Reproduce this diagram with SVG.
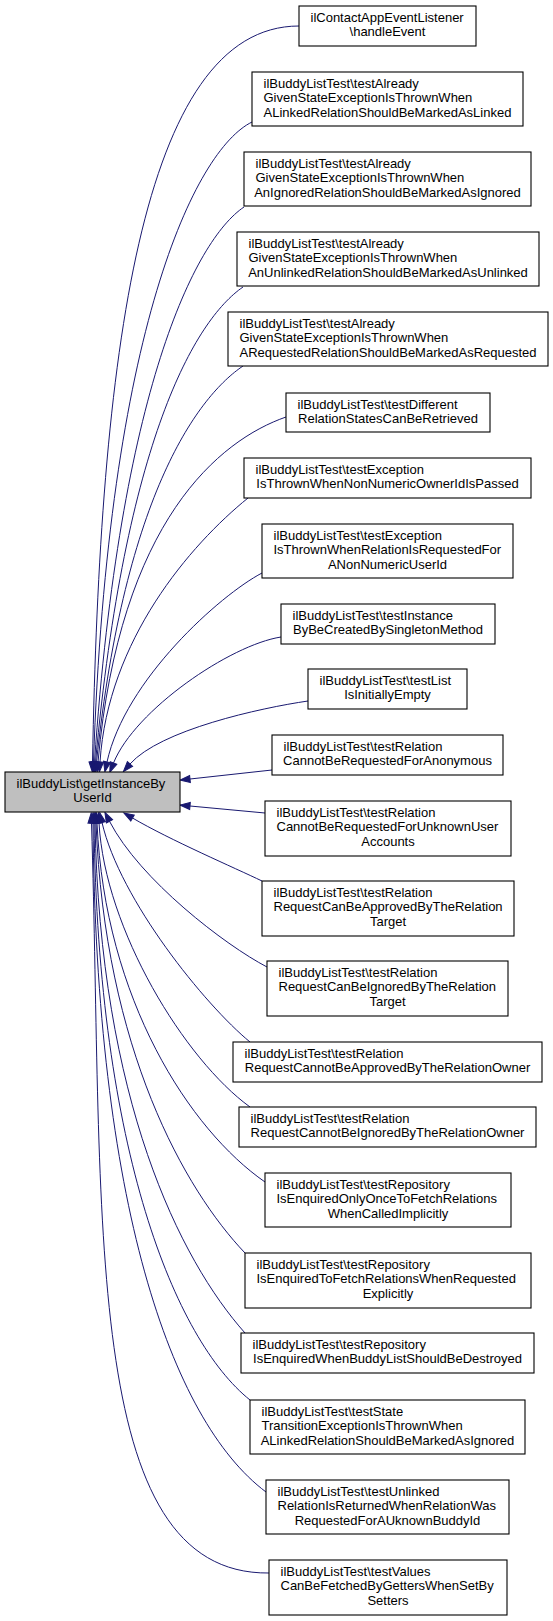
<svg xmlns="http://www.w3.org/2000/svg" width="553" height="1621" viewBox="0 0 553 1621">
<style>
.node rect{fill:#fff;stroke:#000;stroke-width:1.1}
#main rect{fill:#bfbfbf}
text{font-family:"Liberation Sans",Arial,sans-serif;font-size:13px;fill:#000}
.c{text-anchor:middle}
.edges path{fill:none;stroke:#191970;stroke-width:1;marker-end:url(#ah)}
</style>
<defs>
<marker id="ah" markerUnits="userSpaceOnUse" markerWidth="10" markerHeight="7" refX="0" refY="3.5" orient="auto" viewBox="0 0 10 7" overflow="visible">
<path d="M0,0 L10,3.5 L0,7 z" fill="#191970" stroke="#191970" stroke-width="1"/>
</marker>
</defs>
<rect width="553" height="1621" fill="#fff"/>
<g class="edges">
<path d="M299,26 C140,26 100,360 92.5,762"/>
<path d="M252,122 C195,150 108,330 93.5,762"/>
<path d="M244,207 C195,240 120,390 94.5,762"/>
<path d="M243,287 C195,320 125,440 95.5,762"/>
<path d="M243,366 C200,395 125,490 96.5,762"/>
<path d="M286,417 C220,440 120,520 98,762"/>
<path d="M248,498 C190,545 108,640 100,762"/>
<path d="M262,573 C220,595 125,680 107,762"/>
<path d="M281,637 C230,645 135,710 113.5,763"/>
<path d="M308,701 C260,708 160,730 130,764"/>
<path d="M272,770 L190,779"/>
<path d="M265,813 L190,806"/>
<path d="M262,881 C235,868 170,840 132.5,818"/>
<path d="M267,967 C225,945 140,880 109.5,821.3"/>
<path d="M250,1042 C205,1005 120,900 102,822.5"/>
<path d="M250,1107 C185,1060 105,930 99,823"/>
<path d="M265,1182 C190,1130 105,1000 97,823"/>
<path d="M245,1253 C185,1190 105,1050 96,823"/>
<path d="M245,1333 C180,1260 100,1100 95,823"/>
<path d="M250,1400 C175,1340 98,1150 94,823"/>
<path d="M266,1492 C170,1420 96,1200 93,823"/>
<path d="M269,1573 C80,1575 104,1220 91.5,823"/>
</g>
<g id="main" class="node"><rect x="5" y="772" width="175" height="40"/><text x="16.5" y="787.5">ilBuddyList\getInstanceBy</text><text class="c" x="92.5" y="802">UserId</text></g>
<g id="n1" class="node"><rect x="299" y="6" width="177" height="40"/><text x="310.5" y="21.5">ilContactAppEventListener</text><text class="c" x="387.5" y="36">\handleEvent</text></g>
<g id="n2" class="node"><rect x="252" y="72" width="271" height="54"/><text x="263.5" y="87.5">ilBuddyListTest\testAlready</text><text x="263.5" y="102">GivenStateExceptionIsThrownWhen</text><text class="c" x="387.5" y="116.5">ALinkedRelationShouldBeMarkedAsLinked</text></g>
<g id="n3" class="node"><rect x="244" y="152" width="287" height="54"/><text x="255.5" y="167.5">ilBuddyListTest\testAlready</text><text x="255.5" y="182">GivenStateExceptionIsThrownWhen</text><text class="c" x="387.5" y="196.5">AnIgnoredRelationShouldBeMarkedAsIgnored</text></g>
<g id="n4" class="node"><rect x="237" y="232" width="302" height="54"/><text x="248.5" y="247.5">ilBuddyListTest\testAlready</text><text x="248.5" y="262">GivenStateExceptionIsThrownWhen</text><text class="c" x="388" y="276.5">AnUnlinkedRelationShouldBeMarkedAsUnlinked</text></g>
<g id="n5" class="node"><rect x="228" y="312" width="320" height="54"/><text x="239.5" y="327.5">ilBuddyListTest\testAlready</text><text x="239.5" y="342">GivenStateExceptionIsThrownWhen</text><text class="c" x="388" y="356.5">ARequestedRelationShouldBeMarkedAsRequested</text></g>
<g id="n6" class="node"><rect x="286" y="393" width="204" height="39"/><text x="297.5" y="408.5">ilBuddyListTest\testDifferent</text><text class="c" x="388" y="423">RelationStatesCanBeRetrieved</text></g>
<g id="n7" class="node"><rect x="244" y="458" width="287" height="40"/><text x="255.5" y="473.5">ilBuddyListTest\testException</text><text class="c" x="387.5" y="488">IsThrownWhenNonNumericOwnerIdIsPassed</text></g>
<g id="n8" class="node"><rect x="262" y="524" width="251" height="54"/><text x="273.5" y="539.5">ilBuddyListTest\testException</text><text x="273.5" y="554">IsThrownWhenRelationIsRequestedFor</text><text class="c" x="387.5" y="568.5">ANonNumericUserId</text></g>
<g id="n9" class="node"><rect x="281" y="604" width="214" height="40"/><text x="292.5" y="619.5">ilBuddyListTest\testInstance</text><text class="c" x="388" y="634">ByBeCreatedBySingletonMethod</text></g>
<g id="n10" class="node"><rect x="308" y="669" width="159" height="40"/><text x="319.5" y="684.5">ilBuddyListTest\testList</text><text class="c" x="387.5" y="699">IsInitiallyEmpty</text></g>
<g id="n11" class="node"><rect x="272" y="735" width="231" height="40"/><text x="283.5" y="750.5">ilBuddyListTest\testRelation</text><text class="c" x="387.5" y="765">CannotBeRequestedForAnonymous</text></g>
<g id="n12" class="node"><rect x="265" y="801" width="246" height="55"/><text x="276.5" y="816.5">ilBuddyListTest\testRelation</text><text x="276.5" y="831">CannotBeRequestedForUnknownUser</text><text class="c" x="388" y="845.5">Accounts</text></g>
<g id="n13" class="node"><rect x="262" y="881" width="252" height="55"/><text x="273.5" y="896.5">ilBuddyListTest\testRelation</text><text x="273.5" y="911">RequestCanBeApprovedByTheRelation</text><text class="c" x="388" y="925.5">Target</text></g>
<g id="n14" class="node"><rect x="267" y="961" width="241" height="55"/><text x="278.5" y="976.5">ilBuddyListTest\testRelation</text><text x="278.5" y="991">RequestCanBeIgnoredByTheRelation</text><text class="c" x="387.5" y="1005.5">Target</text></g>
<g id="n15" class="node"><rect x="233" y="1042" width="309" height="40"/><text x="244.5" y="1057.5">ilBuddyListTest\testRelation</text><text class="c" x="387.5" y="1072">RequestCannotBeApprovedByTheRelationOwner</text></g>
<g id="n16" class="node"><rect x="239" y="1107" width="297" height="40"/><text x="250.5" y="1122.5">ilBuddyListTest\testRelation</text><text class="c" x="387.5" y="1137">RequestCannotBeIgnoredByTheRelationOwner</text></g>
<g id="n17" class="node"><rect x="265" y="1173" width="246" height="54"/><text x="276.5" y="1188.5">ilBuddyListTest\testRepository</text><text x="276.5" y="1203">IsEnquiredOnlyOnceToFetchRelations</text><text class="c" x="388" y="1217.5">WhenCalledImplicitly</text></g>
<g id="n18" class="node"><rect x="245" y="1253" width="286" height="55"/><text x="256.5" y="1268.5">ilBuddyListTest\testRepository</text><text x="256.5" y="1283">IsEnquiredToFetchRelationsWhenRequested</text><text class="c" x="388" y="1297.5">Explicitly</text></g>
<g id="n19" class="node"><rect x="241" y="1333" width="293" height="40"/><text x="252.5" y="1348.5">ilBuddyListTest\testRepository</text><text class="c" x="387.5" y="1363">IsEnquiredWhenBuddyListShouldBeDestroyed</text></g>
<g id="n20" class="node"><rect x="250" y="1400" width="275" height="54"/><text x="261.5" y="1415.5">ilBuddyListTest\testState</text><text x="261.5" y="1430">TransitionExceptionIsThrownWhen</text><text class="c" x="387.5" y="1444.5">ALinkedRelationShouldBeMarkedAsIgnored</text></g>
<g id="n21" class="node"><rect x="266" y="1480" width="243" height="54"/><text x="277.5" y="1495.5">ilBuddyListTest\testUnlinked</text><text x="277.5" y="1510">RelationIsReturnedWhenRelationWas</text><text class="c" x="387.5" y="1524.5">RequestedForAUknownBuddyId</text></g>
<g id="n22" class="node"><rect x="269" y="1560" width="238" height="55"/><text x="280.5" y="1575.5">ilBuddyListTest\testValues</text><text x="280.5" y="1590">CanBeFetchedByGettersWhenSetBy</text><text class="c" x="388" y="1604.5">Setters</text></g>
</svg>
